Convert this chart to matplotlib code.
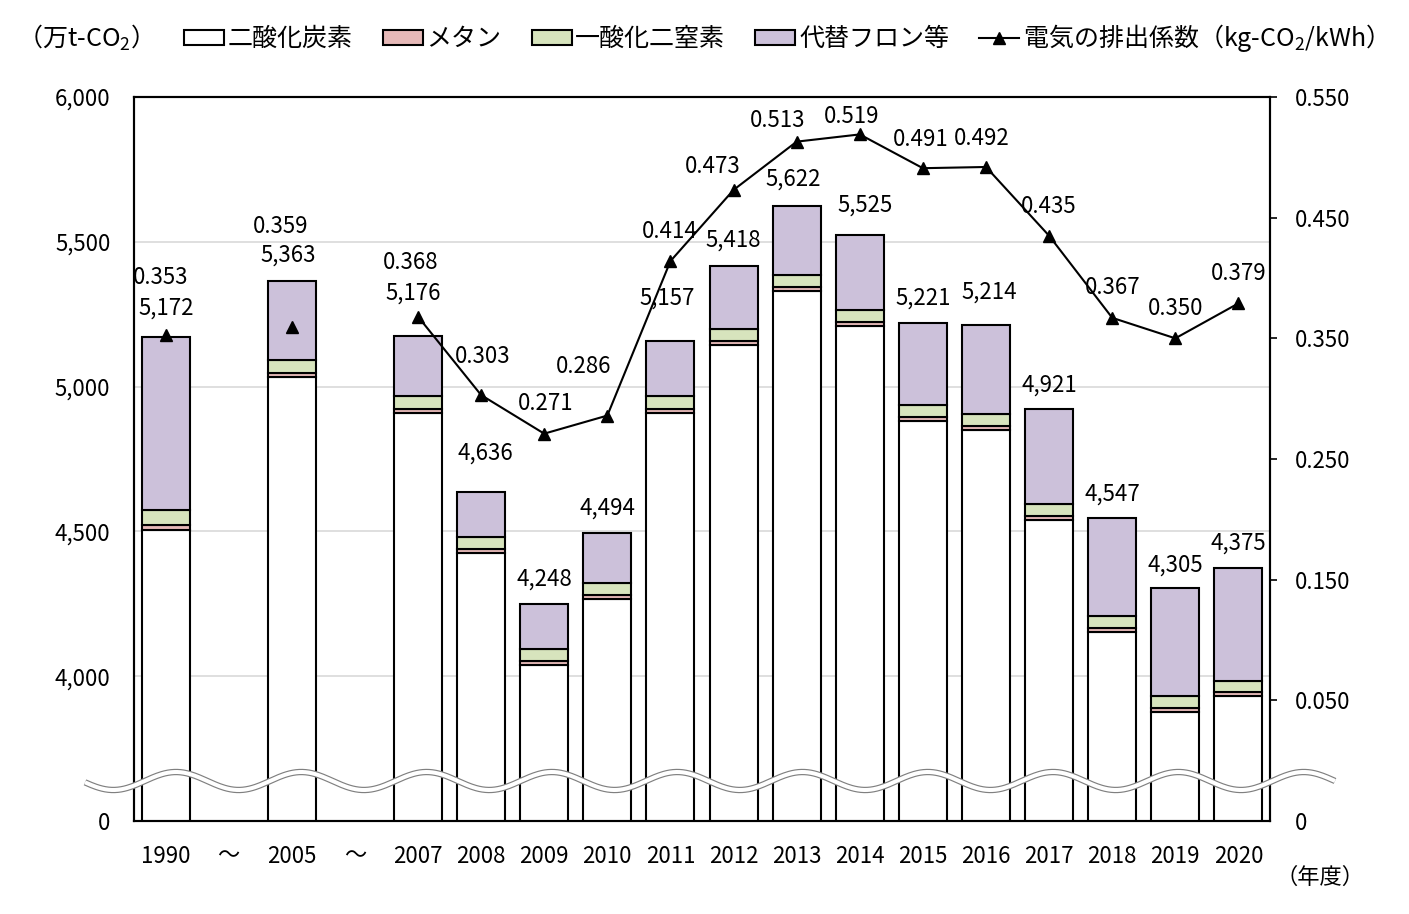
import numpy as np
import matplotlib
matplotlib.use('Agg')
import matplotlib.pyplot as plt
from matplotlib.patches import Patch
from matplotlib.lines import Line2D

plt.rcParams['font.family'] = ['Noto Sans CJK JP', 'DejaVu Sans']
plt.rcParams['mathtext.fontset'] = 'custom'
plt.rcParams['mathtext.rm'] = 'Noto Sans CJK JP'
plt.rcParams['mathtext.it'] = 'Noto Sans CJK JP'

# x軸ラベル（～ は省略した区間）
labels = ['1990', '～', '2005', '～', '2007', '2008', '2009', '2010', '2011',
          '2012', '2013', '2014', '2015', '2016', '2017', '2018', '2019', '2020']

# 温室効果ガス排出量（万t-CO2）
total = [5172, 5363, 5176, 4636, 4248, 4494, 5157, 5418, 5622, 5525,
         5221, 5214, 4921, 4547, 4305, 4375]
co2 = [4505, 5032, 4910, 4424, 4037, 4267, 4910, 5144, 5330, 5209,
       4882, 4851, 4540, 4153, 3878, 3931]
methane = [17, 14, 14, 14, 14, 14, 14, 14, 14, 14, 14, 14, 14, 14, 13, 13]
n2o = [52, 45, 45, 44, 42, 40, 42, 42, 41, 40, 40, 40, 40, 40, 40, 39]
hfc = [598, 272, 207, 154, 155, 173, 191, 218, 237, 262, 285, 309, 327, 340, 374, 392]

# 電気の排出係数（kg-CO2/kWh）
ef = [0.353, 0.359, 0.368, 0.303, 0.271, 0.286, 0.414, 0.473, 0.513, 0.519,
      0.491, 0.492, 0.435, 0.367, 0.350, 0.379]

# ラベル位置の微調整（pixel）
tot_off = [(1, 29), (-4, 26), (-5, 43), (4, 39), (0, 25), (0, 25), (-3, 43), (0, 25),
           (-3, 27), (5, 29), (0, 24), (3, 33), (0, 24), (0, 24), (0, 23), (0, 24)]
ef_off = [(-5, 57), (-11, 101), (-7, 54), (2, 39), (1, 30), (-24, 49), (-1, 30), (-21, 23),
          (-19, 21), (-8, 18), (-2, 29), (-4, 28), (0, 29), (0, 30), (0, 30), (0, 30)]

col_co2 = 'white'
col_ch4 = '#E6B9B8'
col_n2o = '#D7E4BD'
col_hfc = '#CCC1DA'

x = np.array([i for i, lab in enumerate(labels) if lab != '～'])
co2 = np.array(co2)
methane = np.array(methane)
n2o = np.array(n2o)
hfc = np.array(hfc)

fig = plt.figure(figsize=(14.09, 9.14), dpi=100)
ax = fig.add_axes([134/1409, 1-821/914, 1136/1409, 724/914])
ax2 = ax.twinx()

w = 0.76
kw = dict(width=w, edgecolor='black', linewidth=1.5, zorder=2)
ax.bar(x, co2, color=col_co2, **kw)
ax.bar(x, methane, bottom=co2, color=col_ch4, **kw)
ax.bar(x, n2o, bottom=co2+methane, color=col_n2o, **kw)
ax.bar(x, hfc, bottom=co2+methane+n2o, color=col_hfc, **kw)

ax.set_xlim(-0.5, len(labels)-0.5)
ax.set_ylim(3500, 6000)
ax.set_yticks([3500, 4000, 4500, 5000, 5500, 6000])
ax.set_yticklabels(['0', '4,000', '4,500', '5,000', '5,500', '6,000'])
ax.set_xticks(range(len(labels)))
ax.set_xticklabels(labels)
ax.yaxis.grid(True, color='#D9D9D9', linewidth=1.2, zorder=0)
ax.set_axisbelow(True)
ax.tick_params(axis='y', length=0, pad=17, labelsize=16)
ax.tick_params(axis='x', length=0, pad=17, labelsize=16)
for s in ax.spines.values():
    s.set_linewidth(1.5)
    s.set_color('black')

# 排出係数の折れ線（2007年度以降のみ線で結ぶ）
ax2.plot(x[2:], ef[2:], color='black', linewidth=1.5, marker='^', markersize=8, zorder=3)
ax2.plot(x[:2], ef[:2], color='black', linestyle='none', marker='^', markersize=8, zorder=3)
ax2.set_ylim(-0.05, 0.55)
ax2.set_yticks([-0.05, 0.05, 0.15, 0.25, 0.35, 0.45, 0.55])
ax2.set_yticklabels(['0', '0.050', '0.150', '0.250', '0.350', '0.450', '0.550'])
ax2.tick_params(axis='y', length=5, width=1.2, pad=13, labelsize=16)
ax2.yaxis.get_major_ticks()[0].tick2line.set_visible(False)
for s in ax2.spines.values():
    s.set_linewidth(1.5)

# データラベル
for i in range(len(x)):
    ax.annotate(f'{total[i]:,}', (x[i], total[i]), xytext=tot_off[i],
                textcoords='offset pixels', ha='center', va='center', fontsize=16, zorder=5)
    ax2.annotate(f'{ef[i]:.3f}', (x[i], ef[i]), xytext=ef_off[i],
                 textcoords='offset pixels', ha='center', va='center', fontsize=16, zorder=5)

# 波線（省略記号）
xs = np.linspace(85, 1335, 800)
ys = 781 - 9*np.cos(2*np.pi*(xs-176)/125.3)
fig.add_artist(Line2D(xs/1409, 1-ys/914, transform=fig.transFigure, color='#808080',
                      linewidth=4.6, solid_capstyle='butt', zorder=10))
fig.add_artist(Line2D(xs/1409, 1-ys/914, transform=fig.transFigure, color='white',
                      linewidth=2.9, solid_capstyle='butt', zorder=11))

# 凡例
handles = [Patch(facecolor=col_co2, edgecolor='black', linewidth=1.5),
           Patch(facecolor=col_ch4, edgecolor='black', linewidth=1.5),
           Patch(facecolor=col_n2o, edgecolor='black', linewidth=1.5),
           Patch(facecolor=col_hfc, edgecolor='black', linewidth=1.5),
           Line2D([], [], color='black', linewidth=1.5, marker='^', markersize=8)]
names = ['二酸化炭素', 'メタン', '一酸化二窒素', '代替フロン等', '電気の排出係数（kg-CO$_2$/kWh）']
fig.legend(handles, names, loc='center left', bbox_to_anchor=(184/1409, 1-38/914),
           ncol=5, frameon=False, fontsize=18, handlelength=1.6, handleheight=0.55,
           handletextpad=0.15, columnspacing=1.2, borderpad=0, borderaxespad=0)

fig.text(17/1409, 1-38/914, '（万t-CO$_2$）', fontsize=18, ha='left', va='center')
fig.text(1320/1409, 1-877/914, '（年度）', fontsize=16, ha='center', va='center')

fig.savefig('out.png', dpi=100)
